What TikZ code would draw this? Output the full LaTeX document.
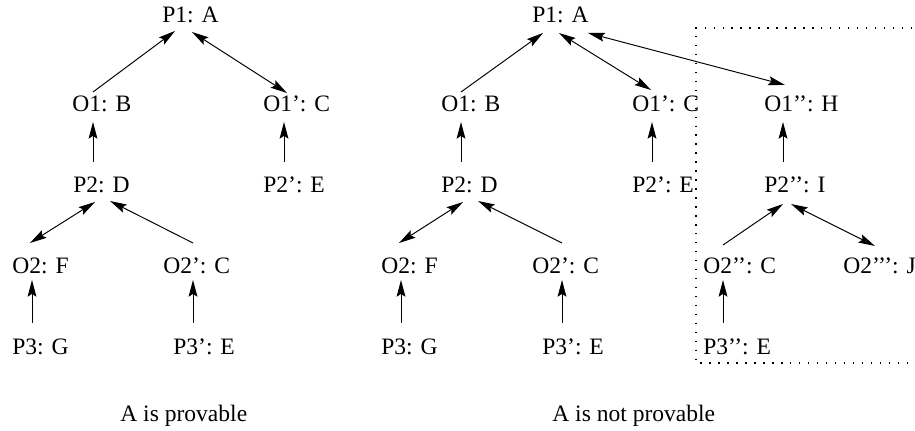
\documentclass[tikz,border=0pt]{standalone}
\usepackage{fontspec}
\setmainfont{Liberation Serif}
\usetikzlibrary{arrows.meta}
\tikzstyle{arr} = [%
					line width = 0.55pt,
					-{Stealth[length=9.5pt, width=5pt, inset=1.6pt]}
					]
\tikzstyle{arrs} = [%
					line width = 0.55pt,
					{Stealth[length=9.5pt, width=5pt, inset=1.6pt]}-{Stealth[length=9.5pt, width=5pt, inset=1.6pt]}
					]
\tikzstyle{lbl} = [%
					inner sep = 0pt,
					anchor = base west]
\tikzstyle{frame} = [%
					line width = 0.6pt,
					dash pattern = on 0.8pt off 4.3pt]

\begin{document}
\begin{tikzpicture}[x=0.02cm, y=-0.02cm, font=\fontsize{13.4}{16}\selectfont]

		\useasboundingbox (0,0) rectangle (915,431);

		% Nodes
		%% A is provable
		\node[lbl] (p1a) at (162,23) {P1: A};
		\node[lbl] (o1b) at (72,112) {O1: B};
		\node[lbl] (o1c) at (263,112) {O1’: C};
		\node[lbl] (p2d) at (73,193) {P2: D};
		\node[lbl] (p2e) at (263,193) {P2’: E};
		\node[lbl] (o2f) at (12,274) {O2: F};
		\node[lbl] (o2c) at (163,274) {O2’: C};
		\node[lbl] (p3g) at (12,355) {P3: G};
		\node[lbl] (p3e) at (173,355) {P3’: E};
		\node[lbl] (capl) at (120,422) {A is provable};

		%% A is not provable
		\node[lbl] (rp1a) at (532,23) {P1: A};
		\node[lbl] (ro1b) at (441,112) {O1: B};
		\node[lbl] (ro1c) at (632,112) {O1’: C};
		\node[lbl] (ro1h) at (764,112) {O1’’: H};
		\node[lbl] (rp2d) at (441,193) {P2: D};
		\node[lbl] (rp2e) at (632,193) {P2’: E};
		\node[lbl] (rp2i) at (764,193) {P2’’: I};
		\node[lbl] (ro2f) at (381,274) {O2: F};
		\node[lbl] (ro2c) at (532,274) {O2’: C};
		\node[lbl] (ro2cc) at (703,274) {O2’’: C};
		\node[lbl] (ro2j) at (843,274) {O2’’’: J};
		\node[lbl] (rp3g) at (381,355) {P3: G};
		\node[lbl] (rp3e) at (542,355) {P3’: E};
		\node[lbl] (rp3ee) at (703,355) {P3’’: E};
		\node[lbl] (capr) at (552,422) {A is not provable};

		% Arrows
		%% A is provable
		\draw[arr] ([shift={(21,-20)}]o1b.base west) -- ([shift={(13,8)}]p1a.base west);
		\draw[arrs] ([shift={(30,9)}]p1a.base west) -- ([shift={(24,-19)}]o1c.base west);
		\draw[arr] ([shift={(20,-31)}]p2d.base west) -- ([shift={(21,10)}]o1b.base west);
		\draw[arr] ([shift={(21,-31)}]p2e.base west) -- ([shift={(21,10)}]o1c.base west);
		\draw[arrs] ([shift={(18,-31)}]o2f.base west) -- ([shift={(22,9)}]p2d.base west);
		\draw[arr] ([shift={(30,-31)}]o2c.base west) -- ([shift={(37,8)}]p2d.base west);
		\draw[arr] ([shift={(20,-32)}]p3g.base west) -- ([shift={(20,6)}]o2f.base west);
		\draw[arr] ([shift={(20,-32)}]p3e.base west) -- ([shift={(30,6)}]o2c.base west);

		%% A is not provable
		\draw[arr] ([shift={(20,-20)}]ro1b.base west) -- ([shift={(11,10)}]rp1a.base west);
		\draw[arrs] ([shift={(27,10)}]rp1a.base west) -- ([shift={(19,-22)}]ro1c.base west);
		\draw[arrs] ([shift={(56,10)}]rp1a.base west) -- ([shift={(21,-27)}]ro1h.base west);
		\draw[arr] ([shift={(20,-31)}]rp2d.base west) -- ([shift={(20,10)}]ro1b.base west);
		\draw[arr] ([shift={(20,-31)}]rp2e.base west) -- ([shift={(20,10)}]ro1c.base west);
		\draw[arr] ([shift={(19,-31)}]rp2i.base west) -- ([shift={(19,10)}]ro1h.base west);
		\draw[arrs] ([shift={(18,-31)}]ro2f.base west) -- ([shift={(22,9)}]rp2d.base west);
		\draw[arr] ([shift={(30,-31)}]ro2c.base west) -- ([shift={(37,8)}]rp2d.base west);
		\draw[arr] ([shift={(20,-29)}]ro2cc.base west) -- ([shift={(19,11)}]rp2i.base west);
		\draw[arrs] ([shift={(27,11)}]rp2i.base west) -- ([shift={(32,-28)}]ro2j.base west);
		\draw[arr] ([shift={(20,-32)}]rp3g.base west) -- ([shift={(20,6)}]ro2f.base west);
		\draw[arr] ([shift={(20,-32)}]rp3e.base west) -- ([shift={(30,6)}]ro2c.base west);
		\draw[arr] ([shift={(20,-32)}]rp3ee.base west) -- ([shift={(20,6)}]ro2cc.base west);

		% Dotted box
		\draw[frame] (930,28) -- (696,28) -- (696,363) -- (930,363);
	\end{tikzpicture}
\end{document}
